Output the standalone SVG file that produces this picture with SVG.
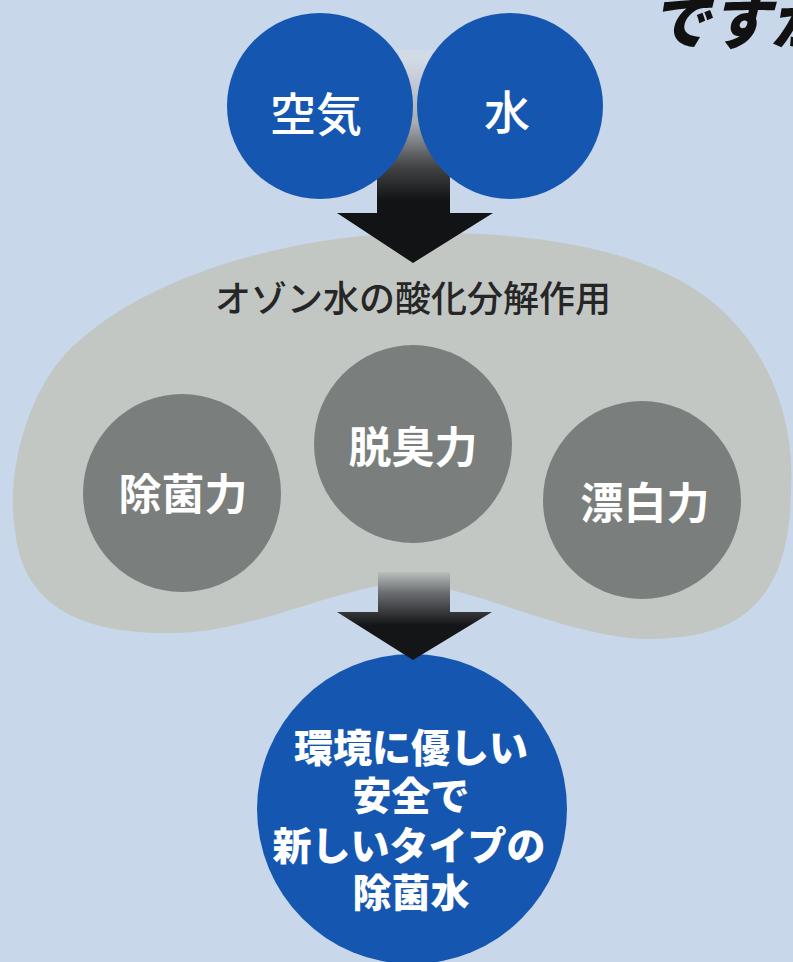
<svg xmlns="http://www.w3.org/2000/svg" width="793" height="962" viewBox="0 0 793 962">
<defs>
<style>
.jp{font-family:"Noto Sans CJK JP","Noto Sans CJK SC",sans-serif;text-anchor:middle}
.blue{fill:#1557b0}
.dark{fill:#7a7e7c}
.wb{fill:#ffffff;font-weight:700}
.wh{fill:#ffffff;font-weight:800}
.wn{fill:#ffffff;font-weight:500}
</style>
<linearGradient id="g1" gradientUnits="userSpaceOnUse" x1="0" y1="60" x2="0" y2="200">
<stop offset="0" stop-color="#d2dae6"/>
<stop offset="0.45" stop-color="#a9adb2"/>
<stop offset="0.75" stop-color="#454749"/>
<stop offset="1" stop-color="#121314"/>
</linearGradient>
<linearGradient id="g2" gradientUnits="userSpaceOnUse" x1="0" y1="572" x2="0" y2="625">
<stop offset="0" stop-color="#b9bebd"/>
<stop offset="0.4" stop-color="#6a6d70"/>
<stop offset="1" stop-color="#141516"/>
</linearGradient>
</defs>
<rect width="793" height="962" fill="#c9d7ea"/>
<text class="jp" x="650" y="44" style="text-anchor:start;font-size:60px;font-weight:900;fill:#111" font-style="italic">ですか</text>
<g id="blob">
<path d="M413 233 C520 231 640 245 710 300 C770 348 795 420 791 490 C790 570 765 632 670 638 C590 648 480 588 413 583 C350 580 250 635 170 633 C80 634 22 605 15 530 C5 470 30 380 80 340 C160 270 300 235 413 233 Z" fill="#c2c7c4"/>
<text class="jp" x="413" y="312" style="font-size:36px;fill:#262626;font-weight:500">オゾン水の酸化分解作用</text>
</g>
<g id="n-deodorize">
<circle class="dark" cx="413" cy="444" r="99"/>
<text class="jp wb" x="413" y="463" style="font-size:43px">脱臭力</text>
</g>
<g id="n-sterilize">
<circle class="dark" cx="182" cy="493" r="99"/>
<text class="jp wb" x="183" y="510" style="font-size:43px">除菌力</text>
</g>
<g id="n-bleach">
<circle class="dark" cx="642" cy="500" r="99"/>
<text class="jp wb" x="645" y="519" style="font-size:43px">漂白力</text>
</g>
<g id="n-result">
<circle class="blue" cx="412" cy="809" r="155"/>
<text class="jp wh" x="411" y="762" style="font-size:39px">環境に優しい</text>
<text class="jp wh" x="411" y="810" style="font-size:39px">安全で</text>
<text class="jp wh" x="409" y="860" style="font-size:39px">新しいタイプの</text>
<text class="jp wh" x="411" y="907" style="font-size:39px">除菌水</text>
</g>
<g id="connectors">
<path d="M377 50 L450 50 L450 213 L493 213 L413 263 L337 213 L377 213 Z" fill="url(#g1)"/>
<path d="M378 572 L450 572 L450 612 L492 612 L413 660 L337 612 L378 612 Z" fill="url(#g2)"/>
</g>
<g id="n-air">
<circle class="blue" cx="320" cy="106" r="93"/>
<text class="jp wn" x="316" y="131" style="font-size:46px">空気</text>
</g>
<g id="n-water">
<circle class="blue" cx="510" cy="106" r="93"/>
<text class="jp wn" x="507" y="129" style="font-size:46px">水</text>
</g>
</svg>
